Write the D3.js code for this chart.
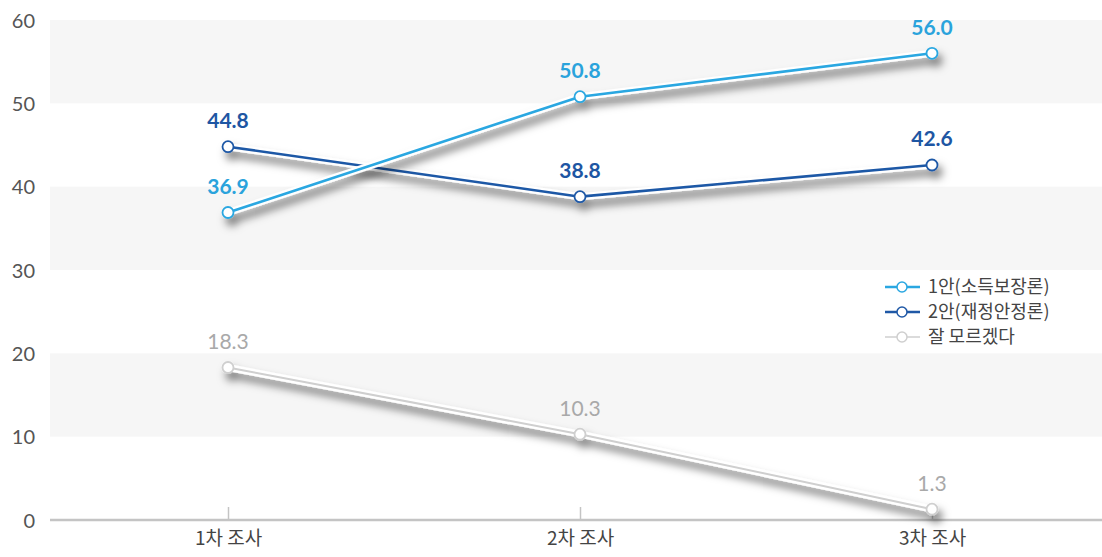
<!DOCTYPE html>
<html>
<head>
<meta charset="utf-8">
<script src="https://cdn.jsdelivr.net/npm/d3@7/dist/d3.min.js"></script>
<style>
  html, body { margin: 0; padding: 0; background: #fff; }
  svg { display: block; }
</style>
</head>
<body>
<svg id="chart" width="1102" height="557"></svg>
<script>
// Survey rounds and responses (%)
const categories = ["1차 조사", "2차 조사", "3차 조사"];
const seriesNames = ["1안(소득보장론)", "2안(재정안정론)", "잘 모르겠다"];
const plan1 = [36.9, 50.8, 56.0];
const plan2 = [44.8, 38.8, 42.6];
const unsure = [18.3, 10.3, 1.3];
const yTicks = [0, 10, 20, 30, 40, 50, 60];
const bandRanges = [[10, 20], [30, 40], [50, 60]];

const lineColors = ["#2aa7e1", "#1f58a6", "#cfcfcf"];
const labelColors = ["#2aa3dc", "#1e56a3", "#a9a9a9"];

const W = 1102, H = 557;
const svg = d3.select("#chart");

const y = d3.scaleLinear().domain([0, 60]).range([520, 20]);
const x = d3.scalePoint().domain(categories).range([228, 932]);

const defs = svg.append("defs");
const f = defs.append("filter").attr("id", "shadow")
  .attr("x", "-10%").attr("y", "-30%").attr("width", "130%").attr("height", "180%");
f.append("feDropShadow").attr("dx", 4).attr("dy", 7).attr("stdDeviation", 4)
  .attr("flood-color", "#000").attr("flood-opacity", 0.5);

// alternating background bands
svg.append("g").selectAll("rect").data(bandRanges).join("rect")
  .attr("x", 50).attr("width", W - 50)
  .attr("y", d => y(d[1])).attr("height", d => y(d[0]) - y(d[1]))
  .attr("fill", "#f6f6f6");

// y axis labels
const yAxis = d3.axisLeft(y).tickValues(yTicks).tickSize(0).tickPadding(0);
const ya = svg.append("g").attr("transform", "translate(35,0)").call(yAxis);
ya.select(".domain").remove();
ya.selectAll("text")
  .attr("font-family", "Lato, sans-serif").attr("font-size", 20)
  .attr("fill", "#555").attr("dy", "0.35em");

// x axis
const xAxis = d3.axisBottom(x).tickSize(-13).tickPadding(12);
const xa = svg.append("g").attr("transform", "translate(0,520)").call(xAxis);
xa.select(".domain").attr("d", `M50,0H${W}`).attr("stroke", "#c4c4c4").attr("stroke-width", 2.5);
xa.selectAll(".tick line").attr("stroke", "#c4c4c4").attr("stroke-width", 1.5);
xa.selectAll("text")
  .attr("font-family", "'Noto Sans CJK KR', sans-serif").attr("font-size", 19)
  .attr("fill", "#444").attr("dy", "0.7em");

const series = [plan1, plan2, unsure];
const line = d3.line().x((d, i) => x(categories[i])).y(d => y(d));

// draw lines (gray series first so the blue ones sit on top)
const order = [2, 1, 0];
order.forEach(si => {
  const vals = series[si];
  const g = svg.append("g").attr("filter", "url(#shadow)");
  g.append("path").attr("d", line(vals)).attr("fill", "none")
    .attr("stroke", "#fff").attr("stroke-width", 7).attr("stroke-linejoin", "round");
  g.append("path").attr("d", line(vals)).attr("fill", "none")
    .attr("stroke", lineColors[si]).attr("stroke-width", si === 2 ? 2 : 2.6)
    .attr("stroke-linejoin", "round");
  g.selectAll("circle").data(vals).join("circle")
    .attr("cx", (d, i) => x(categories[i])).attr("cy", d => y(d))
    .attr("r", 5.5).attr("fill", "#fff")
    .attr("stroke", lineColors[si]).attr("stroke-width", 1.8);
});

// value labels
order.forEach(si => {
  svg.append("g").selectAll("text").data(series[si]).join("text")
    .attr("x", (d, i) => x(categories[i])).attr("y", d => y(d) - 26)
    .attr("text-anchor", "middle").attr("dy", "0.35em")
    .attr("font-family", "Lato, sans-serif").attr("font-weight", si === 2 ? 400 : 700)
    .attr("font-size", 21).attr("fill", labelColors[si])
    .text(d => d.toFixed(1));
});

// legend
const leg = svg.append("g").attr("transform", "translate(885,287)");
seriesNames.forEach((name, i) => {
  const row = leg.append("g").attr("transform", `translate(0,${i * 25})`);
  row.append("line").attr("x1", 0).attr("x2", 35).attr("y1", 0).attr("y2", 0)
    .attr("stroke", lineColors[i]).attr("stroke-width", i === 2 ? 1.5 : 2.5);
  row.append("circle").attr("cx", 17).attr("cy", 0).attr("r", 5)
    .attr("fill", "#fff").attr("stroke", lineColors[i]).attr("stroke-width", 1.5);
  row.append("text").attr("x", 43).attr("y", 0).attr("dy", "0.35em")
    .attr("font-family", "'Noto Sans CJK KR', sans-serif").attr("font-size", 18)
    .attr("fill", "#444").text(name);
});
</script>
</body>
</html>
